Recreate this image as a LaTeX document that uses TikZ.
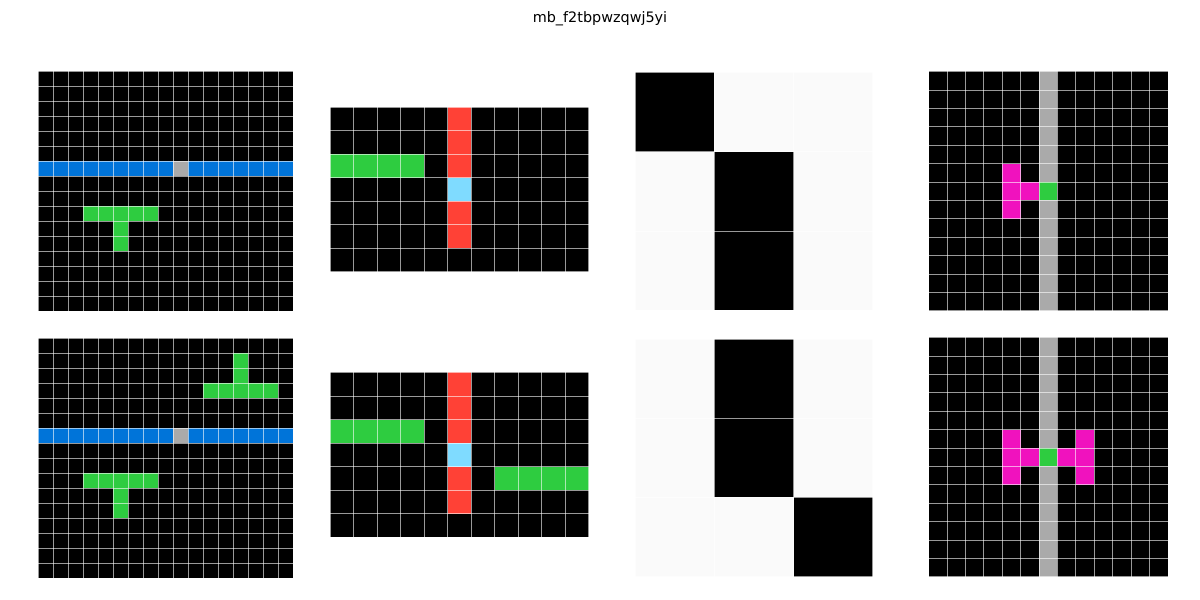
\documentclass[tikz,border=0pt]{standalone}
\usepackage{fontspec}
\setsansfont{DejaVu Sans}
\definecolor{arcblue}{HTML}{0074D9}
\definecolor{arcred}{HTML}{FF4136}
\definecolor{arcgreen}{HTML}{2ECC40}
\definecolor{arcgray}{HTML}{AAAAAA}
\definecolor{arcmagenta}{HTML}{F012BE}
\definecolor{arcsky}{HTML}{7FDBFF}
\definecolor{offwhite}{HTML}{FAFAFA}
% lines of a grid with #1 columns and #2 rows
\newcommand{\gridlines}[2]{%
    \foreach \i in {0,...,#1} \draw[gridline] (\i,0) -- (\i,#2);
    \foreach \j in {0,...,#2} \draw[gridline] (0,\j) -- (#1,\j);
}
\begin{document}
\begin{tikzpicture}[x=0.01in,y=-0.01in,
        gridline/.style={white, opacity=0.6, line width=0.5pt}]
            \useasboundingbox (0,0) rectangle (1200,600);
            \node (title) at (600,19) {\fontsize{10.4}{12}\selectfont\sffamily mb\_f2tbpwzqwj5yi};

            % first column: 17 x 16
            \begin{scope}[shift={(38,71)},x=0.15in,y=-0.15in]
                \fill [black] (0,0) rectangle (17,16);
                \fill [arcblue] (0,6) rectangle (17,7);
                \fill [arcgray] (9,6) rectangle ++(1,1);
                \fill [arcgreen] (3,9) rectangle (8,10);
                \fill [arcgreen] (5,10) rectangle (6,12);
                \gridlines{17}{16}
            \end{scope}
            \begin{scope}[shift={(38,338)},x=0.15in,y=-0.15in]
                \fill [black] (0,0) rectangle (17,16);
                \fill [arcblue] (0,6) rectangle (17,7);
                \fill [arcgray] (9,6) rectangle ++(1,1);
                \fill [arcgreen] (3,9) rectangle (8,10);
                \fill [arcgreen] (5,10) rectangle (6,12);
                \fill [arcgreen] (11,3) rectangle (16,4);
                \fill [arcgreen] (13,1) rectangle (14,3);
                \gridlines{17}{16}
            \end{scope}

            % second column: 11 x 7
            \begin{scope}[shift={(330,107)},x=0.235in,y=-0.235in]
                \fill [black] (0,0) rectangle (11,7);
                \fill [arcred] (5,0) rectangle (6,6);
                \fill [arcsky] (5,3) rectangle ++(1,1);
                \fill [arcgreen] (0,2) rectangle (4,3);
                \gridlines{11}{7}
            \end{scope}
            \begin{scope}[shift={(330,372.5)},x=0.235in,y=-0.235in]
                \fill [black] (0,0) rectangle (11,7);
                \fill [arcred] (5,0) rectangle (6,6);
                \fill [arcsky] (5,3) rectangle ++(1,1);
                \fill [arcgreen] (0,2) rectangle (4,3);
                \fill [arcgreen] (7,4) rectangle (11,5);
                \gridlines{11}{7}
            \end{scope}

            % third column: 3 x 3
            \begin{scope}[shift={(635,72.5)},x=0.792in,y=-0.792in]
                \fill [offwhite] (0,0) rectangle (3,3);
                \fill [black] (0,0) rectangle ++(1,1);
                \fill [black] (1,1) rectangle (2,3);
                \gridlines{3}{3}
            \end{scope}
            \begin{scope}[shift={(635,339)},x=0.792in,y=-0.792in]
                \fill [offwhite] (0,0) rectangle (3,3);
                \fill [black] (1,0) rectangle (2,2);
                \fill [black] (2,2) rectangle ++(1,1);
                \gridlines{3}{3}
            \end{scope}

            % fourth column: 13 x 13
            \begin{scope}[shift={(928.5,71.5)},x=0.184in,y=-0.184in]
                \fill [black] (0,0) rectangle (13,13);
                \fill [arcgray] (6,0) rectangle (7,13);
                \fill [arcmagenta] (4,5) rectangle (5,8);
                \fill [arcmagenta] (5,6) rectangle ++(1,1);
                \fill [arcgreen] (6,6) rectangle ++(1,1);
                \gridlines{13}{13}
            \end{scope}
            \begin{scope}[shift={(928.5,337.5)},x=0.184in,y=-0.184in]
                \fill [black] (0,0) rectangle (13,13);
                \fill [arcgray] (6,0) rectangle (7,13);
                \fill [arcmagenta] (4,5) rectangle (5,8);
                \fill [arcmagenta] (5,6) rectangle ++(1,1);
                \fill [arcgreen] (6,6) rectangle ++(1,1);
                \fill [arcmagenta] (7,6) rectangle ++(1,1);
                \fill [arcmagenta] (8,5) rectangle (9,8);
                \gridlines{13}{13}
            \end{scope}
\end{tikzpicture}
\end{document}
